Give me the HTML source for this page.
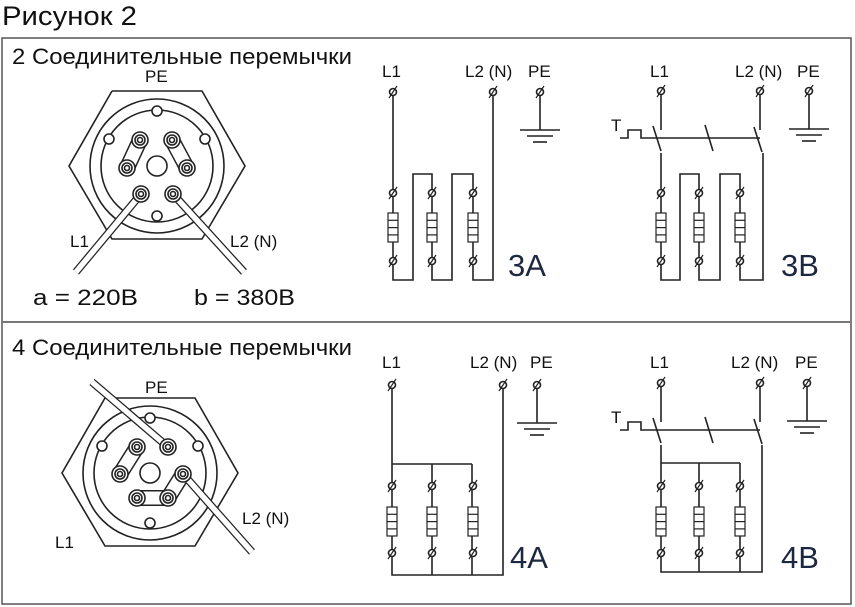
<!DOCTYPE html>
<html><head><meta charset="utf-8"><style>
html,body{margin:0;padding:0;background:#fff;}
svg{display:block;}
text{font-family:"Liberation Sans",sans-serif;fill:#111;}
</style></head><body>
<svg id="s" width="855" height="607" viewBox="0 0 855 607" xmlns="http://www.w3.org/2000/svg">
<rect x="2" y="38" width="849" height="566" fill="none" stroke="#555" stroke-width="1.5"/>
<line x1="2" y1="322" x2="851" y2="322" stroke="#777" stroke-width="2"/>
<text x="2" y="25" font-size="27" textLength="135" lengthAdjust="spacingAndGlyphs">Рисунок 2</text>
<text x="12" y="64" font-size="22" textLength="340" lengthAdjust="spacingAndGlyphs">2 Соединительные перемычки</text>
<text x="12" y="355" font-size="22" textLength="340" lengthAdjust="spacingAndGlyphs">4 Соединительные перемычки</text>
<g font-size="17">
<text x="145" y="82">PE</text>
<text x="70" y="247">L1</text>
<text x="230" y="247">L2 (N)</text>
<text x="145" y="393">PE</text>
<text x="55" y="548">L1</text>
<text x="242" y="524">L2 (N)</text>
<text x="382" y="77">L1</text><text x="465" y="77">L2 (N)</text><text x="528" y="77">PE</text>
<text x="650" y="77">L1</text><text x="735" y="77">L2 (N)</text><text x="797" y="77">PE</text>
<text x="382" y="368">L1</text><text x="470" y="368">L2 (N)</text><text x="530" y="368">PE</text>
<text x="650" y="368">L1</text><text x="731" y="368">L2 (N)</text><text x="795" y="368">PE</text>
<text x="611" y="131">T</text>
<text x="611" y="423">T</text>
</g>
<text x="33" y="305" font-size="22" textLength="105" lengthAdjust="spacingAndGlyphs">a = 220В</text>
<text x="194" y="305" font-size="22" textLength="101" lengthAdjust="spacingAndGlyphs">b = 380В</text>
<text x="508" y="276" font-size="31" style="fill:#1c2840">3A</text>
<text x="781" y="276" font-size="31" style="fill:#1c2840">3B</text>
<text x="510" y="568" font-size="31" style="fill:#1c2840">4A</text>
<text x="781" y="568" font-size="31" style="fill:#1c2840">4B</text>
<g id="g" fill="none" stroke="#222" stroke-width="1.6"></g>
</svg>
<script>
var g=document.getElementById('g'),h='';
function L(a){h+='<polyline points="'+a.join(' ')+'"/>';}
function C(x,y,r,f){h+='<circle cx="'+x+'" cy="'+y+'" r="'+r+'"'+(f?' fill="'+f+'"':'')+'/>';}
function T(x,y){C(x,y,3.5,'#fff');h+='<line x1="'+(x-4)+'" y1="'+(y+6)+'" x2="'+(x+4)+'" y2="'+(y-6)+'" stroke-width="1.2"/>';}
function R(x,y){h+='<rect x="'+(x-5)+'" y="'+y+'" width="10" height="29" fill="#fff" stroke-width="1.2"/>';for(var i=1;i<4;i++)h+='<line x1="'+(x-5)+'" y1="'+(y+i*7.3)+'" x2="'+(x+5)+'" y2="'+(y+i*7.3)+'" stroke-width="1.2"/>';}
function G(x,y){L([x,y,x,y+38]);L([x-20,y+38,x+20,y+38]);L([x-13,y+44,x+13,y+44]);L([x-7,y+50,x+7,y+50]);T(x,y);}
function col(x,t1,r,t2){T(x,t1);R(x,r);T(x,t2);}
var c=[393,432,473];
L([393,92,393,280,413,280,413,174,432,174,432,280,452,280,452,174,473,174,473,280,493,280,493,92]);
c.forEach(function(x){col(x,193,213,261);});T(393,92);T(493,92);G(540,92);
var d=[661,699,740];
L([661,91,661,130]);L([653,126,661,151]);L([760,91,760,130]);L([754,127,762,152]);L([705,125,713,151]);
L([620,138,628,138,628,130,641,130,641,138,760,138]);
L([661,153,661,280,680,280,680,174,699,174,699,280,720,280,720,174,740,174,740,280,763,280,763,153]);
d.forEach(function(x){col(x,193,213,261);});T(661,91);T(760,91);G(809,91);
L([392,385,392,575,503,575,503,385]);L([392,464,472,464]);L([432,464,432,575]);L([472,464,472,575]);
c.forEach(function(x,i){col(i?x:392,486,507,553);});T(392,385);T(503,385);G(537,385);
L([661,383,661,422]);L([653,418,661,443]);L([760,383,760,422]);L([754,419,762,444]);L([705,417,713,443]);
L([620,430,628,430,628,422,641,422,641,430,760,430]);
L([661,445,661,572,762,572,762,445]);L([661,463,740,463]);L([699,463,699,572]);L([740,463,740,572]);
d.forEach(function(x){col(x,486,507,553);});T(661,383);T(760,383);G(807,383);
function plate(cx,cy){
 L([cx-45,cy-75,cx+45,cy-75,cx+88,cy,cx+45,cy+73,cx-45,cy+73,cx-88,cy,cx-45,cy-75]);
 C(cx,cy,67);C(cx,cy,56);C(cx,cy,10);
 [[0,-55],[-48,-27],[48,-27],[0,50]].forEach(function(p){C(cx+p[0],cy+p[1],5,'#fff');});
}
function nut(x,y){C(x,y,8,'#fff');C(x,y,5);C(x,y,2.5);}
function bar(a,b,c2,d2){h+='<line x1="'+a+'" y1="'+b+'" x2="'+c2+'" y2="'+d2+'" stroke-width="16" stroke="#222" stroke-linecap="round"/><line x1="'+a+'" y1="'+b+'" x2="'+c2+'" y2="'+d2+'" stroke-width="13" stroke="#fff" stroke-linecap="round"/>';}
function wire(a,b,c2,d2){h+='<line x1="'+a+'" y1="'+b+'" x2="'+c2+'" y2="'+d2+'" stroke-width="8" stroke="#222"/><line x1="'+a+'" y1="'+b+'" x2="'+c2+'" y2="'+d2+'" stroke-width="5.5" stroke="#fff"/>';}
plate(157,166);
bar(140,140,127,168);bar(172,140,187,168);
wire(141,194,76,272);wire(173,194,244,272);
[[140,140],[172,140],[127,168],[187,168],[141,194],[173,194]].forEach(function(p){nut(p[0],p[1]);});
plate(150,473);
bar(137,447,120,474);bar(137,498,168,498);bar(168,498,183,474);
wire(92,382,168,447);wire(183,474,252,552);
[[137,447],[168,447],[120,474],[183,474],[137,498],[168,498]].forEach(function(p){nut(p[0],p[1]);});
g.innerHTML=h;
</script>
</body></html>
